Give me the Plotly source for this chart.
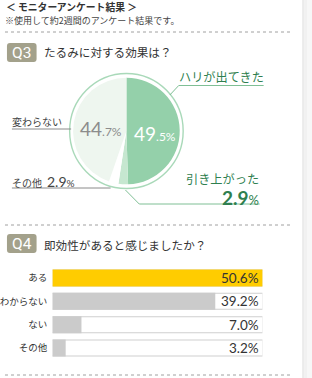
import plotly.graph_objects as go

W, H = 312, 378

# ---- data ----
q3_labels = ["ハリが出てきた", "引き上がった", "その他", "変わらない"]
q3_values = [49.5, 2.9, 2.9, 44.7]
q3_colors = ["#94d0aa", "#c6e7d0", "#ffffff", "#eef6ef"]

q4_labels = ["ある", "わからない", "ない", "その他"]
q4_values = [50.6, 39.2, 7.0, 3.2]
q4_colors = ["#ffcc00", "#cbcbcb", "#cbcbcb", "#cbcbcb"]

JP = "Noto Sans CJK JP"
NUM = "Lato"


def px(x):
    return x / W


def py(y):
    return 1 - y / H


def split(v):
    s = f"{v:.1f}"
    a, b = s.split(".")
    return a, "." + b


fig = go.Figure()

# pie
cx, cy, r = 124, 131, 54
fig.add_trace(go.Pie(
    labels=q3_labels, values=q3_values, sort=False, direction="clockwise",
    rotation=0, marker=dict(colors=q3_colors, line=dict(width=0)),
    textinfo="none", hoverinfo="skip", showlegend=False,
    domain=dict(x=[px(cx - r), px(cx + r)], y=[py(cy + r), py(cy - r)]),
))

# bars
vmax = max(q4_values)
cats = q4_labels
fig.add_trace(go.Bar(y=cats, x=[vmax] * 4, orientation="h", width=0.73,
                     marker=dict(color="#cfcfcf", line=dict(width=0)),
                     hoverinfo="skip", showlegend=False))
fig.add_trace(go.Bar(y=cats, x=[vmax] * 4, orientation="h", width=0.64,
                     marker=dict(color="#ffffff", line=dict(width=0)),
                     hoverinfo="skip", showlegend=False))
fig.add_trace(go.Bar(y=cats, x=q4_values, orientation="h", width=0.73,
                     marker=dict(color=q4_colors, line=dict(width=0)),
                     hoverinfo="skip", showlegend=False))

shapes = []
# right shadow strip
for x0, x1, c in [(302, 304, "#ebebeb"), (304, 307, "#f1f1f1"), (307, 312, "#f7f7f7")]:
    shapes.append(dict(type="rect", xref="paper", yref="paper", x0=px(x0), x1=px(x1),
                       y0=0, y1=1, fillcolor=c, line=dict(width=0), layer="below"))
# dotted separators
for yy in [32, 225, 375]:
    shapes.append(dict(type="line", xref="paper", yref="paper", x0=px(1), x1=px(290),
                       y0=py(yy), y1=py(yy), line=dict(color="#a0a0a0", width=1, dash="dot")))
# badges
for top in [43, 234]:
    x0, x1, y0, y1, rr = 3, 33, top, top + 19, 3
    path = (f"M{px(x0+rr)},{py(y0)} L{px(x1-rr)},{py(y0)} Q{px(x1)},{py(y0)} {px(x1)},{py(y0+rr)} "
            f"L{px(x1)},{py(y1-rr)} Q{px(x1)},{py(y1)} {px(x1-rr)},{py(y1)} L{px(x0+rr)},{py(y1)} "
            f"Q{px(x0)},{py(y1)} {px(x0)},{py(y1-rr)} L{px(x0)},{py(y0+rr)} Q{px(x0)},{py(y0)} {px(x0+rr)},{py(y0)} Z")
    shapes.append(dict(type="path", xref="paper", yref="paper", path=path,
                       fillcolor="#a3a18b", line=dict(width=0)))
# ring around pie
R2 = 57.5
shapes.append(dict(type="circle", xref="paper", yref="paper", x0=px(cx - R2), x1=px(cx + R2),
                   y0=py(cy + R2), y1=py(cy - R2), line=dict(color="#a9d9b9", width=1.4)))
# leader lines
lc = "#7fbf95"
gc = "#8a8a8a"
for (x0, y0, x1, y1, c) in [
    (168, 95, 177, 85.5, lc), (177, 85.5, 263, 85.5, lc),
    (8, 129, 68, 129, gc),
    (8, 188, 108, 188, gc),
    (123, 190, 137, 204, lc), (137, 204, 259, 204, lc),
]:
    shapes.append(dict(type="line", xref="paper", yref="paper", x0=px(x0), x1=px(x1),
                       y0=py(y0), y1=py(y1), line=dict(color=c, width=1)))

ann = []


def A(x, y, text, size, color="#333333", family=JP, xanchor="left", yanchor="middle", **kw):
    ann.append(dict(x=px(x), y=py(y), xref="paper", yref="paper", text=text, showarrow=False,
                    font=dict(size=size, color=color, family=family), xanchor=xanchor,
                    yanchor=yanchor, borderpad=0, **kw))


A(1, 7, "<b>＜ モニターアンケート結果 ＞</b>", 9.8, "#333333")
A(0, 20.5, "※使用して約2週間のアンケート結果です。", 9, "#444444")
A(18, 53, "Q3", 15.5, "#ffffff", family="Roboto", xanchor="center")
A(39, 52, "たるみに対する効果は？", 11.6, "#333333")
A(18, 244, "Q4", 15.5, "#ffffff", family="Roboto", xanchor="center")
A(39, 245, "即効性があると感じましたか？", 11.6, "#333333")

dg = "#2f7f4f"
A(176, 77, q3_labels[0], 12.2, dg)
a, b = split(q3_values[0])
A(131, 133, f"{a}<span style='font-size:12px'>{b}%</span>", 19, "#ffffff", family=NUM)
a, b = split(q3_values[3])
A(76, 128, f"{a}<span style='font-size:12px'>{b}%</span>", 19, "#8c8c8c", family=NUM)
A(7, 121, q3_labels[3], 10, "#444444")
A(7, 181, f"{q3_labels[2]}\u2002<span style='font-family:{NUM};font-size:14px'>{q3_values[2]:.1f}</span>"
          f"<span style='font-family:{NUM};font-size:10px'>%</span>", 10, "#444444")
A(259, 178.5, q3_labels[1], 12.2, dg, xanchor="right")
A(259, 197, f"<b>{q3_values[1]:.1f}</b><span style='font-size:13px'>%</span>", 19, dg,
  family=NUM, xanchor="right")

# bar value labels
for c, v in zip(cats, q4_values):
    ann.append(dict(x=vmax, y=c, xref="x", yref="y", text=f"{v:.1f}%", showarrow=False,
                    xanchor="right", yanchor="middle", xshift=-2, yshift=0,
                    font=dict(size=13.5, color="#333333", family=NUM)))

pitch = 23.3
fig.update_layout(
    width=W, height=H, margin=dict(l=0, r=0, t=0, b=0),
    paper_bgcolor="#ffffff", plot_bgcolor="rgba(0,0,0,0)",
    barmode="overlay", shapes=shapes, annotations=ann,
    xaxis=dict(domain=[px(49), px(262)], range=[0, vmax], visible=False, fixedrange=True),
    yaxis=dict(domain=[py(348 + pitch / 2), py(278 - pitch / 2)], autorange="reversed",
               showgrid=False, zeroline=False, showline=False, ticks="",
               ticklabelstandoff=4, tickfont=dict(size=9.5, color="#333333", family=JP)),
)

fig.write_html("out.html")
